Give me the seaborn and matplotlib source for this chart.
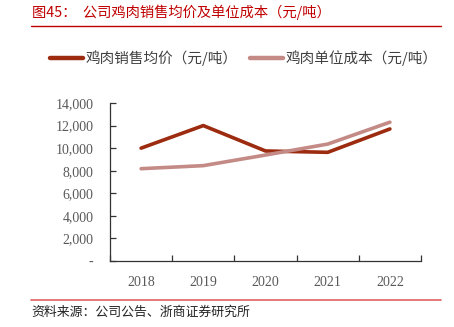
import matplotlib
matplotlib.use("Agg")
import matplotlib.pyplot as plt
import seaborn as sns
import pandas as pd
from matplotlib.ticker import FixedLocator, FuncFormatter
from matplotlib.lines import Line2D

years = ["2018", "2019", "2020", "2021", "2022"]
price = [10000, 12000, 9750, 9630, 11700]
cost = [8180, 8450, 9390, 10360, 12300]
series_names = ["鸡肉销售均价（元/吨）", "鸡肉单位成本（元/吨）"]
y_ticks = [0, 2000, 4000, 6000, 8000, 10000, 12000, 14000]

sns.set_theme(style="white")
plt.rcParams['font.family'] = ['Noto Sans CJK SC', 'DejaVu Sans']

df = pd.DataFrame({
    "year": years * 2,
    "value": price + cost,
    "series": [series_names[0]] * len(years) + [series_names[1]] * len(years),
})
df["x"] = list(range(len(years))) * 2

colors = ["#9C2B0F", "#C48A86"]

fig = plt.figure(figsize=(4.54, 3.27), dpi=100)
ax = fig.add_axes([0.2423, 0.2018, 0.685, 0.4832])

sns.lineplot(data=df, x="x", y="value", hue="series", palette=colors,
             linewidth=2.6, ax=ax, legend=False, sort=False)

ax.set_xlim(-0.5, len(years) - 0.5)
ax.set_ylim(0, 14000)
ax.set_xlabel("")
ax.set_ylabel("")

for s in ["top", "right"]:
    ax.spines[s].set_visible(False)
for s in ["left", "bottom"]:
    ax.spines[s].set_color("#333333")
    ax.spines[s].set_linewidth(0.9)

ax.xaxis.set_major_locator(FixedLocator(range(len(years))))
ax.set_xticklabels(years)
ax.xaxis.set_minor_locator(FixedLocator([i - 0.5 for i in range(len(years) + 1)]))
ax.tick_params(axis="x", which="major", length=0, pad=11,
               labelsize=10, labelcolor="#595959")
ax.tick_params(axis="x", which="minor", direction="in", length=4,
               color="#333333", width=0.9, bottom=True)

ax.yaxis.set_major_locator(FixedLocator(y_ticks))
ax.yaxis.set_major_formatter(FuncFormatter(lambda v, p: "-" if v == 0 else f"{int(v):,}"))
ax.tick_params(axis="y", which="major", direction="in", length=4, width=0.9,
               color="#333333", left=True, labelsize=10, labelcolor="#595959", pad=12)
for lab in ax.get_xticklabels() + ax.get_yticklabels():
    lab.set_family("Liberation Serif")

handles = [Line2D([0], [0], color=c, linewidth=3.2) for c in colors]
fig.legend(handles, series_names, loc="center left", bbox_to_anchor=(0.104, 0.822),
           ncol=2, frameon=False, fontsize=10.5, handlelength=2.25,
           handletextpad=0.15, columnspacing=0.9, labelcolor="#404040",
           borderaxespad=0, borderpad=0.2)

fig.text(0.07, 0.962, "图45：  公司鸡肉销售均价及单位成本（元/吨）", color="#C00000",
         fontsize=10.3, va="center", ha="left")
fig.add_artist(Line2D([0.068, 0.972], [0.922, 0.922], color="#C00000", linewidth=1.0))
fig.add_artist(Line2D([0.068, 0.972], [0.082, 0.082], color="#E06060", linewidth=1.2))
fig.text(0.07, 0.045, "资料来源：公司公告、浙商证券研究所", color="#222222",
         fontsize=9.3, va="center", ha="left")

fig.savefig("out.png", dpi=100)
